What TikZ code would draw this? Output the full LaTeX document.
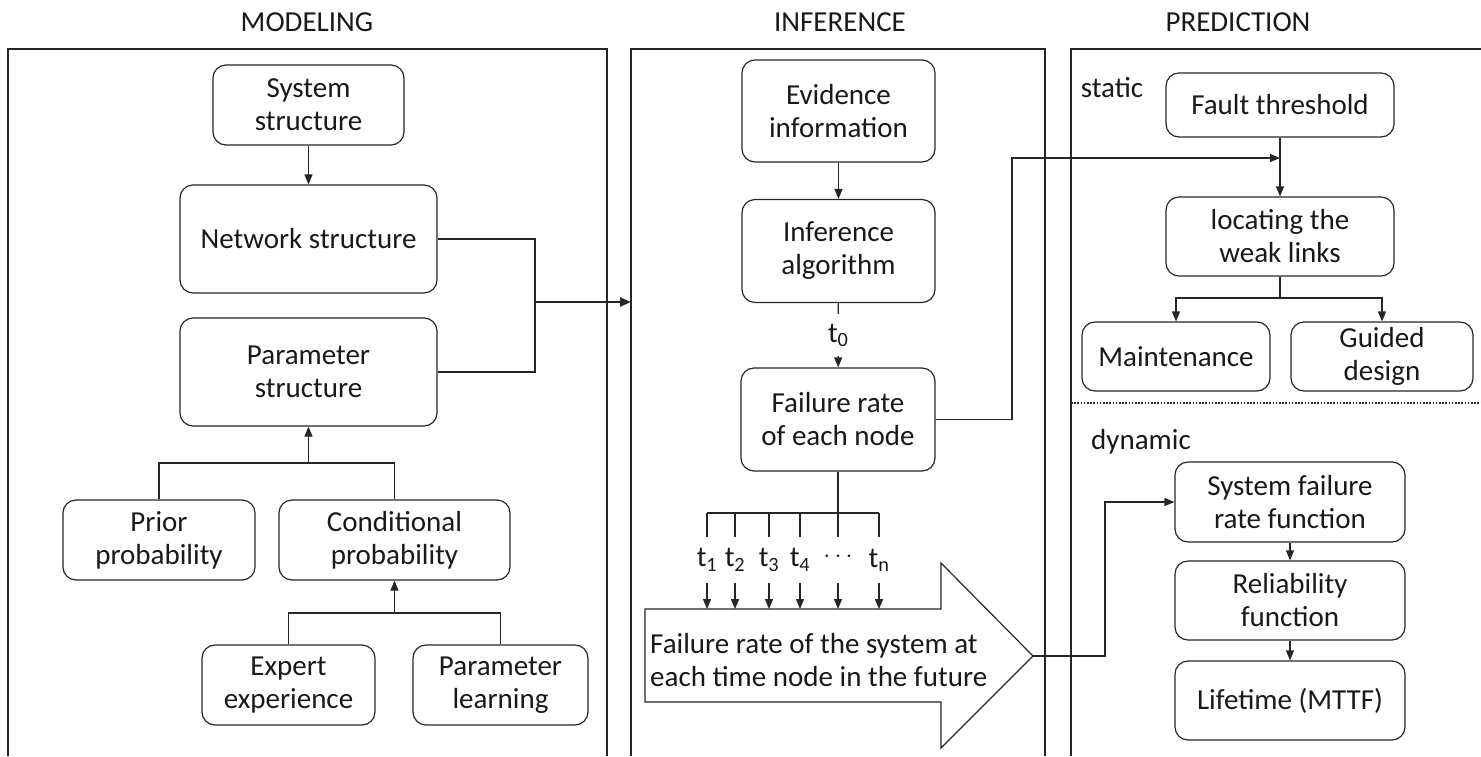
\documentclass[tikz,border=0pt]{standalone}
\usepackage{fontspec}
\setmainfont{Carlito}
\usetikzlibrary{arrows.meta,calc}
\begin{document}
\begin{tikzpicture}[x=1pt,y=-1pt,
  font=\fontsize{29}{33}\selectfont,
  box/.style={draw=black!85, rounded corners=13pt, line width=1.2pt, align=center, inner sep=2pt, text=black!90},
  conn/.style={line width=1.2pt, draw=black!85},
  arr/.style={conn, -{Triangle[length=10pt,width=8pt]}},
  panel/.style={line width=1.2pt, draw=black!85},
  lbl/.style={text=black!90, inner sep=0pt}]
\useasboundingbox (0,0) rectangle (1481,756);
% panels
\draw[panel] (8,756) -- (8,49) -- (607,49) -- (607,756);
\draw[panel] (631,756) -- (631,49) -- (1045,49) -- (1045,756);
\draw[panel] (1071,756) -- (1071,49) -- (1481,49);
\draw[dash pattern=on 1.6pt off 1.6pt, line width=2pt, black!85] (1071,403) -- (1481,403);
\node[lbl] (tm) at (307,22) {MODELING};
\node[lbl] (ti) at (840,22) {INFERENCE};
\node[lbl] (tp) at (1238,22) {PREDICTION};
% modeling
\node[box, minimum width=191pt, minimum height=80pt] (sys) at (308.5,105) {System\\structure};
\node[box, minimum width=257pt, minimum height=108pt] (net) at (308.5,239) {Network structure};
\node[box, minimum width=257pt, minimum height=108pt] (par) at (308.5,372) {Parameter\\structure};
\node[box, minimum width=192pt, minimum height=80pt] (prior) at (159,540) {Prior\\probability};
\node[box, minimum width=231pt, minimum height=80pt] (cond) at (394.5,540) {Conditional\\probability};
\node[box, minimum width=173pt, minimum height=80pt] (expert) at (288.5,685) {Expert\\experience};
\node[box, minimum width=175pt, minimum height=80pt] (plearn) at (500.5,685) {Parameter\\learning};
\draw[arr] (sys) -- (net);
\coordinate (mj) at (535,302);
\coordinate (infl) at (631,302);
\draw[conn] (net.east) -| (mj) |- (par.east);
\draw[conn, line width=2.4pt, -{Triangle[length=11pt,width=9pt]}] (mj) -- (infl);
\coordinate (pj) at (308.5,463);
\draw[conn] (prior.north) |- (pj) -| (cond.north);
\draw[arr] (pj) -- (par.south);
\coordinate (cj) at (394.5,613);
\draw[conn] (expert.north) |- (cj) -| (plearn.north);
\draw[arr] (cj) -- (cond.south);
% inference
\node[box, minimum width=193pt, minimum height=102pt] (evid) at (838.5,111) {Evidence\\information};
\node[box, minimum width=193pt, minimum height=103pt] (algo) at (838.5,251) {Inference\\algorithm};
\node[box, minimum width=194pt, minimum height=103pt] (fail) at (838,419.5) {Failure rate\\of each node};
\draw[arr] (evid) -- (algo);
\draw[arr] (algo) -- node[fill=white, minimum height=42pt, inner sep=0pt, text=black!90] (t0) {t\textsubscript{0}} (fail);
\coordinate (fj) at (838,513);
\draw[conn] (fail.south) -- (fj);
\coordinate (k1) at (707,513);
\coordinate (k2) at (735,513);
\coordinate (k3) at (769,513);
\coordinate (k4) at (800,513);
\coordinate (k5) at (838,513);
\coordinate (k6) at (879,513);
\draw[conn] (k1) -- (k6);
\node[lbl, minimum height=46pt] (l1) at (707,560) {t\textsubscript{1}};
\node[lbl, minimum height=46pt] (l2) at (735,560) {t\textsubscript{2}};
\node[lbl, minimum height=46pt] (l3) at (769,560) {t\textsubscript{3}};
\node[lbl, minimum height=46pt] (l4) at (800,560) {t\textsubscript{4}};
\node[lbl, minimum height=46pt] (l5) at (838,560) {\raisebox{0.5ex}{$\cdots$}};
\node[lbl, minimum height=46pt] (l6) at (879,560) {t\textsubscript{n}};
\coordinate (ba) at (645,609);
\draw[conn, fill=white] (ba) -- (941,609) -- (941,563) -- (1033,656) -- (941,748) -- (941,702) -- (645,702) -- cycle;
\coordinate (bigtip) at (1033,656);
\node[lbl, anchor=west, align=left] (bigtext) at (650,660) {Failure rate of the system at\\each time node in the future};
\foreach \i in {1,...,6}{
  \draw[conn] (k\i) -- (l\i.north);
  \draw[arr] (l\i.south) -- (l\i.south |- ba);
}
% prediction
\node[lbl] (st) at (1112,88) {static};
\node[box, minimum width=228pt, minimum height=64pt] (fault) at (1280,105) {Fault threshold};
\node[box, minimum width=228pt, minimum height=79pt] (loc) at (1280,236.5) {locating the\\weak links};
\node[box, minimum width=188pt, minimum height=69pt] (maint) at (1176,356.5) {Maintenance};
\node[box, minimum width=182pt, minimum height=69pt] (guided) at (1382,356.5) {Guided\\design};
\draw[arr] (fault) -- (loc);
\coordinate (lj) at (1280,298);
\draw[conn] (loc.south) -- (lj);
\draw[arr] (lj) -| (maint.north);
\draw[arr] (lj) -| (guided.north);
\coordinate (sj) at (1012,158);
\coordinate (fj2) at (1280,158);
\draw[arr] (fail.east) -| (sj) -- (fj2);
\node[lbl] (dy) at (1141,442) {dynamic};
\node[box, minimum width=230pt, minimum height=80pt] (sysf) at (1290,502) {System failure\\rate function};
\node[box, minimum width=230pt, minimum height=79pt] (rel) at (1290,600.5) {Reliability\\function};
\node[box, minimum width=230pt, minimum height=79pt] (life) at (1290,700.5) {Lifetime (MTTF)};
\draw[arr] (sysf) -- (rel);
\draw[arr] (rel) -- (life);
\coordinate (dj) at (1105,656);
\draw[arr] (bigtip) -- (dj) |- (sysf.west);
\end{tikzpicture}
\end{document}
